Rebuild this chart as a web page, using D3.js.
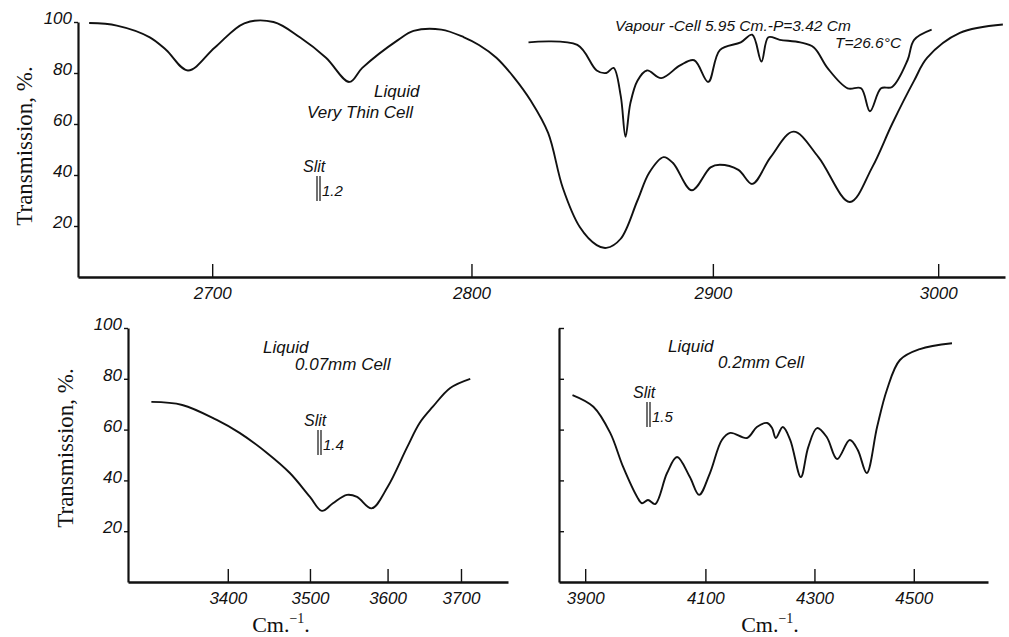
<!DOCTYPE html>
<html>
<head>
<meta charset="utf-8">
<script src="https://cdn.jsdelivr.net/npm/d3@7"></script>
<style>
  body { margin: 0; background: #fff; }
  svg { display: block; }
  .tick text { font-family: "Liberation Sans", sans-serif; font-style: italic; font-size: 17px; fill: #111; }
  .note { font-family: "Liberation Sans", sans-serif; font-style: italic; fill: #111; }
  .title { font-family: "Liberation Serif", serif; fill: #111; }
</style>
</head>
<body>
<div id="chart"></div>
<script>
// transmission spectra, wavenumber (cm-1) vs transmission (%)

const pctTicks = [20, 40, 60, 80, 100];
const topTicks = [2700, 2800, 2900, 3000];
const leftTicks = [3400, 3500, 3600, 3700];
const rightTicks = [3900, 4100, 4300, 4500];

// top panel, liquid (very thin cell)
const liquidThin = [
  [2655, 99.6], [2665, 98.6], [2677, 94], [2683, 89], [2691, 81], [2701, 90], [2712, 99.5],
  [2723, 100], [2733, 94], [2743, 86], [2752, 76.5], [2757, 82], [2771, 93], [2777, 96.5],
  [2788, 97], [2797, 94], [2803, 91], [2810, 86], [2817, 78.4], [2824, 69], [2831, 56.5],
  [2837, 35], [2844, 19.6], [2851, 12.5], [2855, 11.4], [2861, 15], [2868, 30], [2873, 41],
  [2879, 47], [2883, 44.7], [2891, 34], [2899, 43], [2903, 44], [2911, 42], [2917, 36.5],
  [2925, 47], [2935, 57], [2946, 47], [2960, 29.4], [2970, 43], [2979, 60], [2989, 77],
  [2995, 86], [3010, 95.7], [3030, 99]
];

// top panel, vapour
const vapour = [
  [2823, 92], [2843, 91], [2851, 81], [2855, 80], [2858, 82], [2861, 71], [2863, 55],
  [2865, 68], [2868, 77], [2872, 81], [2878, 78], [2886, 83], [2892, 85], [2898, 76.5],
  [2903, 89], [2912, 92], [2917, 95], [2921, 84.5], [2924, 94], [2929, 93], [2938, 92],
  [2944, 90], [2950, 82], [2959, 74], [2965, 74], [2969, 65], [2974, 74], [2979, 74.5],
  [2986, 85], [2989, 93], [2997, 97]
];

// bottom left, liquid 0.07 mm cell
const liquid007 = [
  [3312, 70.9], [3347, 69.7], [3387, 63.8], [3414, 58.7], [3447, 50.8], [3475, 42.9],
  [3500, 33.5], [3515, 28], [3529, 31], [3547, 34.3], [3560, 33.5], [3579, 29], [3600, 37.4],
  [3626, 53], [3643, 62.6], [3661, 69], [3685, 76.4], [3713, 80]
];

// bottom right, liquid 0.2 mm cell
const liquid02 = [
  [3880, 73.6], [3913, 69], [3940, 58.7], [3961, 45.3], [3984, 33.5], [3992, 31], [4002, 32.3],
  [4014, 30.7], [4034, 42.9], [4051, 49.2], [4073, 41.3], [4089, 34.3], [4108, 42.9],
  [4129, 55.9], [4144, 58.7], [4174, 56.7], [4192, 61], [4211, 62.6], [4220, 60.6],
  [4227, 56.7], [4240, 61], [4254, 55.9], [4274, 41.3], [4288, 53], [4305, 60.6], [4324, 57],
  [4344, 48.4], [4369, 55.9], [4385, 52], [4403, 42.9], [4424, 61], [4444, 75.6],
  [4471, 87.4], [4513, 91.7], [4582, 94]
];

const W = 1009, H = 637;
const svg = d3.select("#chart").append("svg").attr("width", W).attr("height", H);

// prism spectrometer: x is linear in wavelength, so scales work on 1e4/v
const wl = v => 1e4 / v;

function panel(opt) {
  const x = d3.scaleLinear().domain([wl(opt.v0), wl(opt.v1)]).range([opt.x0, opt.x1]);
  const y = d3.scaleLinear().domain([0, 100]).range([opt.y0, opt.y1]);
  const g = svg.append("g");

  const xAxis = g.append("g")
    .attr("transform", `translate(0,${opt.y0})`)
    .call(d3.axisBottom(x)
      .tickValues(opt.ticks.map(wl))
      .tickFormat(d => Math.round(1e4 / d))
      .tickSizeInner(-13).tickSizeOuter(0).tickPadding(10));
  xAxis.select(".domain").attr("stroke-width", 2.4).attr("stroke", "#111");
  xAxis.selectAll(".tick line").attr("stroke-width", 1.4).attr("stroke", "#111");

  const yAx = d3.axisLeft(y).tickValues(pctTicks).tickSizeOuter(0);
  if (opt.yLabels) yAx.tickSizeInner(4).tickPadding(2);
  else yAx.tickSizeInner(-5).tickFormat("");
  const yAxis = g.append("g")
    .attr("transform", `translate(${opt.x0},0)`)
    .call(yAx);
  yAxis.select(".domain").attr("stroke-width", 2.2).attr("stroke", "#111");
  yAxis.selectAll(".tick line").attr("stroke-width", 1.4).attr("stroke", "#111");
  yAxis.selectAll(".tick text").attr("dy", "0.1em");

  const line = d3.line()
    .x(d => x(wl(d[0])))
    .y(d => y(d[1]))
    .curve(d3.curveCatmullRom.alpha(0.5));

  opt.series.forEach(s => {
    g.append("path")
      .datum(s)
      .attr("d", line)
      .attr("fill", "none")
      .attr("stroke", "#111")
      .attr("stroke-width", 1.9)
      .attr("stroke-linejoin", "round");
  });
  return g;
}

panel({ v0: 2651, v1: 3031, x0: 78, x1: 1005, y0: 277, y1: 22,
  ticks: topTicks, yLabels: true, series: [liquidThin, vapour] });
panel({ v0: 3286, v1: 3767, x0: 128, x1: 508, y0: 582, y1: 328,
  ticks: leftTicks, yLabels: true, series: [liquid007] });
panel({ v0: 3859, v1: 4662, x0: 559, x1: 988, y0: 582, y1: 328,
  ticks: rightTicks, yLabels: false, series: [liquid02] });

// notes
function note(txt, x, y, size) {
  svg.append("text").attr("class", "note")
    .attr("x", x).attr("y", y).style("font-size", size + "px").text(txt);
}
function slit(x, y, w) {
  note("Slit", x - 14, y - 4, 16);
  [0, 3].forEach(dx => {
    svg.append("line")
      .attr("x1", x + dx).attr("x2", x + dx)
      .attr("y1", y).attr("y2", y + 25)
      .attr("stroke", "#111").attr("stroke-width", 1.2);
  });
  note(w, x + 5, y + 20, 15);
}

note("Liquid", 374, 97, 17);
note("Very Thin Cell", 307, 118, 17);
slit(317, 176, "1.2");

note("Vapour -Cell 5.95 Cm.-P=3.42 Cm", 615, 31, 15.5);
note("T=26.6°C", 835, 48, 15.5);

note("Liquid", 263, 353, 17);
note("0.07mm Cell", 295, 370, 17);
slit(318, 430, "1.4");

note("Liquid", 668, 352, 17);
note("0.2mm Cell", 718, 368, 17);
slit(647, 402, "1.5");

// axis titles
function yTitle(cx, cy) {
  svg.append("text").attr("class", "title")
    .attr("transform", `translate(${cx},${cy}) rotate(-90)`)
    .attr("text-anchor", "middle")
    .style("font-size", "23px")
    .text("Transmission, %.");
}
yTitle(32, 146);
yTitle(73, 448);

function xTitle(cx) {
  const t = svg.append("text").attr("class", "title")
    .attr("x", cx).attr("y", 632)
    .attr("text-anchor", "middle")
    .style("font-size", "22px");
  t.append("tspan").text("Cm.");
  t.append("tspan").attr("dy", -9).style("font-size", "14px").text("\u22121");
  t.append("tspan").attr("dy", 9).text(".");
}
xTitle(281);
xTitle(770);
</script>
</body>
</html>
